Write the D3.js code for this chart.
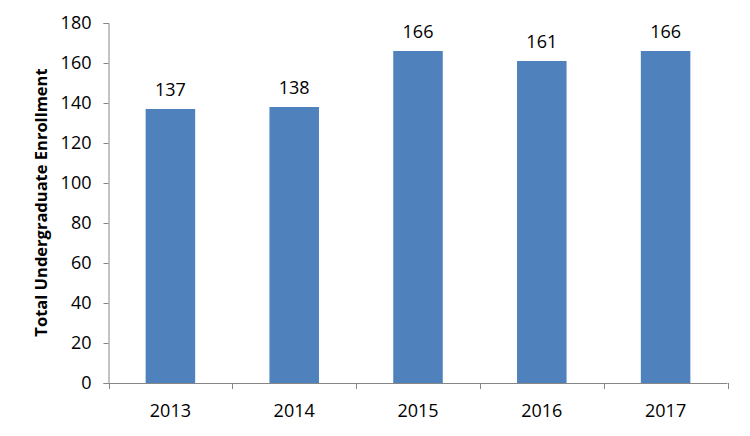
<!DOCTYPE html>
<html>
<head>
<meta charset="utf-8">
<script src="https://cdn.jsdelivr.net/npm/d3@7"></script>
<style>
  html, body { margin: 0; padding: 0; background: #fff; }
  svg { display: block; }
  text { font-family: "Open Sans", "Liberation Sans", sans-serif; fill: #000; }
</style>
</head>
<body>
<svg id="chart" width="750" height="436"></svg>
<script>
const years = ["2013", "2014", "2015", "2016", "2017"];
const enrollment = [137, 138, 166, 161, 166];
const yTicks = [0, 20, 40, 60, 80, 100, 120, 140, 160, 180];
const yTitle = "Total Undergraduate Enrollment";

const svg = d3.select("#chart");
const mLeft = 108.5, mRight = 727.5, mTop = 23, mBottom = 383;

const x = d3.scaleBand().domain(years).range([mLeft, mRight]).paddingInner(0.6).paddingOuter(0.3);
const y = d3.scaleLinear().domain([0, 180]).range([mBottom, mTop]);

// bars
svg.append("g").selectAll("rect").data(years).join("rect")
  .attr("x", d => x(d))
  .attr("width", x.bandwidth())
  .attr("y", (d, i) => y(enrollment[i]))
  .attr("height", (d, i) => y(0) - y(enrollment[i]))
  .attr("fill", "#4F81BD");

// value labels
svg.append("g").selectAll("text").data(years).join("text")
  .attr("x", d => x(d) + x.bandwidth() / 2)
  .attr("y", (d, i) => y(enrollment[i]) - 13)
  .attr("text-anchor", "middle")
  .style("font-size", "18px")
  .text((d, i) => enrollment[i]);

// y axis
const yAxis = svg.append("g").attr("transform", `translate(${mLeft},0)`)
  .call(d3.axisLeft(y).tickValues(yTicks).tickSize(5).tickPadding(12));
yAxis.selectAll("line, path").attr("stroke", "#868686");
yAxis.selectAll("text").style("font-size", "18px").attr("fill", "#000");

// x axis with boundary ticks
const boundaries = d3.range(years.length + 1).map(i => mLeft + i * (mRight - mLeft) / years.length);
const xg = svg.append("g");
xg.append("line").attr("x1", mLeft).attr("x2", mRight).attr("y1", mBottom + 0.5).attr("y2", mBottom + 0.5)
  .attr("stroke", "#868686");
xg.selectAll("line.tk").data(boundaries).join("line").attr("class", "tk")
  .attr("x1", d => Math.round(d) + 0.5).attr("x2", d => Math.round(d) + 0.5)
  .attr("y1", mBottom).attr("y2", mBottom + 6).attr("stroke", "#868686");
xg.selectAll("text").data(years).join("text")
  .attr("x", d => x(d) + x.bandwidth() / 2)
  .attr("y", 417)
  .attr("text-anchor", "middle")
  .style("font-size", "18px")
  .text(d => d);

// y title
svg.append("text")
  .attr("transform", `translate(47,${(62 + 343) / 2}) rotate(-90)`)
  .attr("text-anchor", "middle")
  .style("font-size", "16.5px")
  .style("font-weight", "bold")
  .text(yTitle);
</script>
</body>
</html>
